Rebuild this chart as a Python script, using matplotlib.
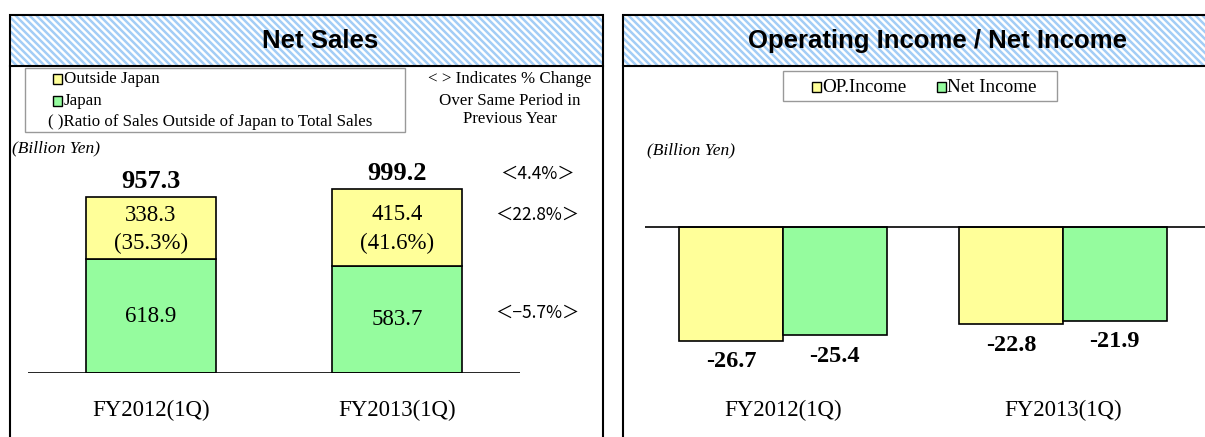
import matplotlib
matplotlib.use('Agg')
import matplotlib.pyplot as plt
from matplotlib.patches import Rectangle
from matplotlib.collections import LineCollection
from matplotlib.transforms import blended_transform_factory

plt.rcParams['font.family'] = ['Liberation Serif', 'DejaVu Serif']

W, H = 1205, 437

# ---------------- data ----------------
periods = ['FY2012(1Q)', 'FY2013(1Q)']
sales_outside = [338.3, 415.4]
sales_japan = [618.9, 583.7]
sales_total = [957.3, 999.2]
outside_ratio = ['(35.3%)', '(41.6%)']
change_total = '＜4.4%＞'
change_outside = '＜22.8%＞'
change_japan = '＜−5.7%＞'
op_income = [-26.7, -22.8]
net_income = [-25.4, -21.9]

YELLOW = '#ffff99'
GREEN = '#95fc9e'
STRIPE = '#a3cdf6'


def fx(x):
    return x / W


def fy(y):
    return 1 - y / H


fig = plt.figure(figsize=(W / 100, H / 100), dpi=100)


def panel(x0, x1, title, tx):
    # striped header
    top, bot = 15, 66
    frame = Rectangle((fx(x0), fy(bot)), fx(x1) - fx(x0), fy(top) - fy(bot),
                      transform=fig.transFigure, fill=False,
                      edgecolor='black', lw=1.5, zorder=2)
    segs = []
    s = x0 - (bot - top)
    while s < x1:
        segs.append([(fx(s), fy(top)), (fx(s + bot - top), fy(bot))])
        s += 7
    lc = LineCollection(segs, colors=STRIPE, linewidths=1.8,
                        transform=fig.transFigure, zorder=1)
    lc.set_clip_path(Rectangle((fx(x0), fy(bot)), fx(x1) - fx(x0),
                               fy(top) - fy(bot), transform=fig.transFigure))
    fig.add_artist(lc)
    fig.patches.append(frame)
    fig.add_artist(plt.Line2D([fx(x0), fx(x0)], [fy(bot), 0], color='black',
                              lw=1.5, transform=fig.transFigure))
    fig.add_artist(plt.Line2D([fx(x1), fx(x1)], [fy(bot), 0], color='black',
                              lw=1.5, transform=fig.transFigure))
    fig.text(fx(tx), fy(41), title, ha='center', va='center', zorder=3,
             fontsize=18.5, fontweight='bold', family='Liberation Sans')


panel(10, 603, 'Net Sales', 320)
panel(623, 1210, 'Operating Income / Net Income', 937)
fig.text(fx(12), fy(148), '(Billion Yen)', ha='left', va='center',
         fontsize=12.5, style='italic')
fig.text(fx(647), fy(150), '(Billion Yen)', ha='left', va='center',
         fontsize=12.5, style='italic')

# ---------------- left: net sales ----------------
ax1 = fig.add_axes([fx(28), fy(373), fx(520) - fx(28), fy(150) - fy(373)])
ax1.set_xlim(-0.5, 1.5)
ax1.set_ylim(0, 223 / 0.184)
ax1.axis('off')
x = range(len(periods))
ax1.bar(x, sales_japan, width=0.527, color=GREEN, edgecolor='black', lw=1.2)
ax1.bar(x, sales_outside, bottom=sales_japan, width=0.527, color=YELLOW,
        edgecolor='black', lw=1.2)
ax1.axhline(0, color='black', lw=1.2)
for i in x:
    ax1.text(i, sales_japan[i] / 2, f'{sales_japan[i]:.1f}', ha='center',
             va='center', fontsize=16.5)
    mid = sales_japan[i] + sales_outside[i] / 2
    ax1.text(i, mid + 70, f'{sales_outside[i]:.1f}', ha='center', va='center',
             fontsize=16.5)
    ax1.text(i, mid - 85, outside_ratio[i], ha='center', va='center',
             fontsize=16.5)
    ax1.text(i, sales_total[i] + 20, f'{sales_total[i]:.1f}', ha='center',
             va='bottom', fontsize=19, fontweight='bold')

bt1 = blended_transform_factory(ax1.transData, fig.transFigure)
for i in x:
    ax1.text(i, fy(410), periods[i], ha='center', va='center', fontsize=16.5,
             transform=bt1)

cjk = ['Noto Sans CJK JP', 'DejaVu Sans']
fig.text(fx(537), fy(174), change_total, ha='center', va='center', fontsize=12.5,
         family=cjk)
fig.text(fx(537), fy(215), change_outside, ha='center', va='center',
         fontsize=12.5, family=cjk)
fig.text(fx(537), fy(313), change_japan, ha='center', va='center', fontsize=12.5,
         family=cjk)

# legend box
fig.patches.append(Rectangle((fx(25), fy(132)), fx(405) - fx(25), fy(68) - fy(132),
                             transform=fig.transFigure, fill=False,
                             edgecolor='#999999', lw=1))
for yy, col, lab in [(79, YELLOW, 'Outside Japan'), (101, GREEN, 'Japan')]:
    fig.patches.append(Rectangle((fx(53), fy(yy + 4.5)), fx(9), fy(0) - fy(9),
                                 transform=fig.transFigure, facecolor=col,
                                 edgecolor='black', lw=1))
    fig.text(fx(64), fy(yy), lab, ha='left', va='center', fontsize=12.2)
fig.text(fx(48), fy(122), '( )Ratio of Sales Outside of Japan to Total Sales',
         ha='left', va='center', fontsize=12.2)
for yy, t in [(79, '< > Indicates % Change'), (101, 'Over Same Period in'),
              (119, 'Previous Year')]:
    fig.text(fx(510), fy(yy), t, ha='center', va='center', fontsize=12.2)

# ---------------- right: income ----------------
ax2 = fig.add_axes([fx(645), fy(373), fx(1205) - fx(645), fy(150) - fy(373)])
ax2.set_xlim(-0.493, 1.507)
ax2.set_ylim(-146 / 4.27, 77 / 4.27)
ax2.axis('off')
bw = 0.37
xo = [i - bw / 2 for i in x]
xn = [i + bw / 2 for i in x]
ax2.bar(xo, op_income, width=bw, color=YELLOW, edgecolor='black', lw=1.2)
ax2.bar(xn, net_income, width=bw, color=GREEN, edgecolor='black', lw=1.2)
ax2.axhline(0, color='black', lw=1.2)
for i in x:
    ax2.text(xo[i], op_income[i] - 2.4, f'{op_income[i]:.1f}', ha='center',
             va='top', fontsize=17.5, fontweight='bold')
    ax2.text(xn[i], net_income[i] - 2.4, f'{net_income[i]:.1f}', ha='center',
             va='top', fontsize=17.5, fontweight='bold')
bt2 = blended_transform_factory(ax2.transData, fig.transFigure)
for i in x:
    ax2.text(i, fy(410), periods[i], ha='center', va='center', fontsize=16.5,
             transform=bt2)

fig.patches.append(Rectangle((fx(783), fy(101)), fx(1057) - fx(783), fy(71) - fy(101),
                             transform=fig.transFigure, fill=False,
                             edgecolor='#999999', lw=1))
for xx, col, lab in [(812, YELLOW, 'OP.Income'), (937, GREEN, 'Net Income')]:
    fig.patches.append(Rectangle((fx(xx), fy(91.5)), fx(9), fy(0) - fy(9),
                                 transform=fig.transFigure, facecolor=col,
                                 edgecolor='black', lw=1))
    fig.text(fx(xx + 10), fy(87), lab, ha='left', va='center', fontsize=13.8)

fig.savefig('out.png', dpi=100)
